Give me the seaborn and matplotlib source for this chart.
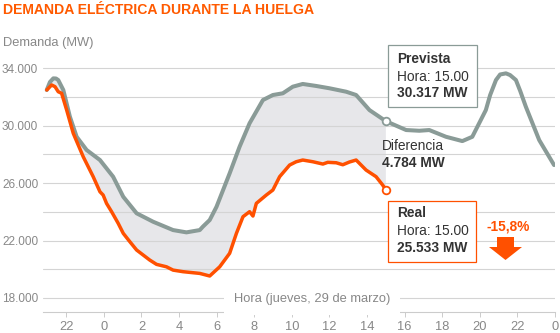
import matplotlib
matplotlib.use("Agg")
import numpy as np
import pandas as pd
import seaborn as sns
import matplotlib.pyplot as plt
from matplotlib.patches import Rectangle, Polygon

# ---------------- data ----------------
# hours relative to midnight of Thursday 29 March (negative = previous evening)
prev_hours = [-3.04, -2.87, -2.69, -2.55, -2.43, -2.16, -1.81, -1.45, -0.92, -0.21,
              0.49, 1.03, 1.74, 2.62, 3.68, 4.39, 5.10, 5.26, 5.63, 5.99,
              6.69, 7.22, 7.75, 8.46, 8.99, 9.52, 10.05, 10.58, 11.30, 12.00,
              12.89, 13.42, 14.13, 15.00, 16.08, 16.78, 17.31, 18.20, 19.07, 19.60,
              20.32, 20.55, 20.86, 21.08, 21.39, 21.61, 21.92, 22.15, 22.45, 23.16, 23.95]
prev_mw = [32490, 33045, 33300, 33290, 33185, 32490, 30630, 29230, 28310, 27610,
           26450, 25050, 23900, 23310, 22730, 22570, 22730, 22960, 23430, 24350,
           26680, 28540, 30170, 31790, 32140, 32260, 32720, 32910, 32770, 32610,
           32370, 32140, 31090, 30317, 29700, 29650, 29700, 29230, 28930, 29230,
           31090, 32140, 33185, 33570, 33650, 33530, 33185, 32420, 31320, 29000, 27260]

real_hours = [-3.04, -2.78, -2.60, -2.43, -2.25, -1.98, -1.63, -1.10, -0.57, -0.21,
              -0.04, 0.14, 0.41, 0.76, 1.03, 1.38, 1.74, 2.09, 2.44, 2.80,
              3.33, 3.68, 4.21, 5.10, 5.63, 6.16, 6.69, 7.05, 7.40, 7.75,
              7.93, 8.11, 8.64, 8.99, 9.35, 9.88, 10.23, 10.58, 11.12, 11.65,
              11.91, 12.36, 12.71, 13.06, 13.42, 13.95, 14.48, 14.83, 15.00]
real_mw = [32490, 32840, 32720, 32370, 32260, 31090, 29470, 27840, 26450, 25400,
           25170, 24590, 24010, 23200, 22500, 21920, 21340, 20990, 20640, 20340,
           20170, 19940, 19830, 19710, 19530, 20170, 21110, 22500, 23660, 24010,
           23710, 24590, 25170, 25520, 26450, 27260, 27490, 27610, 27490, 27330,
           27450, 27420, 27280, 27470, 27610, 26910, 26450, 25870, 25533]

x_ticks = [-2, 0, 2, 4, 6, 8, 10, 12, 14, 16, 18, 20, 22, 24]
x_tick_labels = ["22", "0", "2", "4", "6", "8", "10", "12", "14", "16", "18", "20", "22", "0"]
y_ticks = [18000, 22000, 26000, 30000, 34000]
y_tick_labels = ["18.000", "22.000", "26.000", "30.000", "34.000"]
y_minor = [20000, 24000, 28000, 32000]

title = "DEMANDA ELÉCTRICA DURANTE LA HUELGA"
y_title = "Demanda (MW)"
x_title = "Hora (jueves, 29 de marzo)"
prev_label = ["Prevista", "Hora: 15.00", "30.317 MW"]
real_label = ["Real", "Hora: 15.00", "25.533 MW"]
diff_label = ["Diferencia", "4.784 MW"]
pct_label = "-15,8%"

# ---------------- style ----------------
GRAY = "#8a9b97"
ORANGE = "#ff5000"
FILL = "#e7e7ea"
GRID = "#d4d4d4"
TXT = "#888888"
DARK = "#333333"

sns.set_theme(style="white")
plt.rcParams["font.family"] = ["Liberation Sans", "DejaVu Sans"]

W, H = 560, 333
fig = plt.figure(figsize=(W / 100, H / 100), dpi=100)
ax = fig.add_axes([43 / W, 1 - 312.3 / H, 512 / W, (312.3 - 60) / H])


def fx(x):
    return x / W


def fy(y):
    return 1 - y / H


df_prev = pd.DataFrame({"hora": prev_hours, "mw": prev_mw})
df_real = pd.DataFrame({"hora": real_hours, "mw": real_mw})

# filled difference area
end_h = real_hours[-1]
idx = [i for i, h in enumerate(prev_hours) if h <= end_h]
poly_x = [prev_hours[i] for i in idx] + real_hours[::-1]
poly_y = [prev_mw[i] for i in idx] + real_mw[::-1]
ax.fill(poly_x, poly_y, color=FILL, lw=0, zorder=1)

sns.lineplot(data=df_prev, x="hora", y="mw", color=GRAY, linewidth=2.9, ax=ax,
             solid_capstyle="round", solid_joinstyle="round", zorder=3)
sns.lineplot(data=df_real, x="hora", y="mw", color=ORANGE, linewidth=2.5, ax=ax,
             solid_capstyle="round", solid_joinstyle="round", zorder=4)

k = prev_hours.index(end_h)
ax.plot([prev_hours[k]], [prev_mw[k]], "o", mfc="white", mec=GRAY, ms=5.5, mew=1.3, zorder=5)
ax.plot([real_hours[-1]], [real_mw[-1]], "o", mfc="white", mec=ORANGE, ms=5.5, mew=1.3, zorder=5)

ax.set_xlim(-3.24, 23.95)
ax.set_ylim(17000, 34580)
ax.set_xlabel("")
ax.set_ylabel("")

ax.set_xticks(x_ticks)
ax.set_xticklabels(x_tick_labels)
ax.set_yticks(y_ticks)
ax.set_yticklabels(y_tick_labels)
ax.set_yticks(y_minor, minor=True)
ax.grid(axis="y", which="both", color=GRID, linewidth=0.8)
ax.grid(axis="x", visible=False)
ax.set_axisbelow("line")

ax.tick_params(axis="y", which="both", length=0, pad=3.4, labelsize=8.5, labelcolor=TXT)
ax.tick_params(axis="x", length=3.6, width=0.7, color="#cccccc", direction="out",
               pad=3.0, labelsize=9.3, labelcolor=TXT, bottom=True)

for s in ["top", "right", "left"]:
    ax.spines[s].set_visible(False)
ax.spines["bottom"].set_color("#cccccc")
ax.spines["bottom"].set_linewidth(0.8)

# ---------------- texts ----------------
fig.text(fx(3), fy(10), title, ha="left", va="center", fontsize=10.1,
         fontweight="bold", color="#ff5a00")
fig.text(fx(3), fy(42.7), y_title, ha="left", va="center", fontsize=9.3, color=TXT)
fig.text(fx(312), fy(299), x_title, ha="center", va="center", fontsize=9.3, color=TXT,
         bbox=dict(boxstyle="square,pad=0.75", fc="white", ec="none"))

# Prevista box
fig.patches.append(Rectangle((fx(388.3), fy(106.7)), (476.7 - 388.3) / W, (106.7 - 45) / H,
                             transform=fig.transFigure, fc="white", ec=GRAY, lw=0.9, zorder=6))
for txt, yy, bold in zip(prev_label, [59.3, 76.7, 93.3], [True, False, True]):
    fig.text(fx(396.7), fy(yy), txt, ha="left", va="center", fontsize=9.9,
             fontweight="bold" if bold else "normal", color=DARK, zorder=7)

# Real box
fig.patches.append(Rectangle((fx(388.3), fy(261.7)), (476 - 388.3) / W, (261.7 - 200.7) / H,
                             transform=fig.transFigure, fc="white", ec=ORANGE, lw=0.9, zorder=6))
for txt, yy, bold in zip(real_label, [213.3, 230.7, 248.3], [True, False, True]):
    fig.text(fx(396.7), fy(yy), txt, ha="left", va="center", fontsize=9.9,
             fontweight="bold" if bold else "normal", color=DARK, zorder=7)

# Diferencia
fig.text(fx(382.3), fy(145.7), diff_label[0], ha="left", va="center", fontsize=9.9, color=DARK)
fig.text(fx(382.3), fy(163.3), diff_label[1], ha="left", va="center", fontsize=9.9,
         fontweight="bold", color=DARK)

# percentage + arrow
fig.text(fx(508), fy(226.7), pct_label, ha="center", va="center", fontsize=9.9,
         fontweight="bold", color=ORANGE)
arrow_px = [(497, 237), (514, 237), (514, 247), (522, 247), (505.5, 260), (489, 247), (497, 247)]
fig.patches.append(Polygon([(fx(a), fy(b)) for a, b in arrow_px], closed=True,
                           transform=fig.transFigure, fc=ORANGE, ec="none"))

fig.savefig("out.png", dpi=100)
